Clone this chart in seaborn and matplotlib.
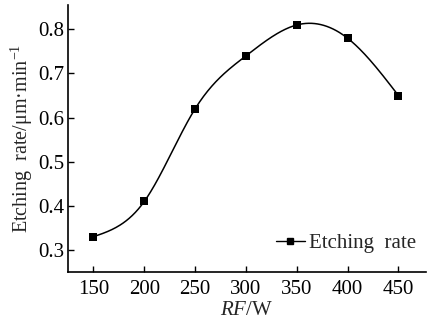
import numpy as np
import pandas as pd
import matplotlib
matplotlib.use("Agg")
import matplotlib.pyplot as plt
import seaborn as sns
from matplotlib.lines import Line2D

rf = [150, 200, 250, 300, 350, 400, 450]
rate = [0.33, 0.41, 0.62, 0.74, 0.81, 0.78, 0.65]
xticks = [150, 200, 250, 300, 350, 400, 450]
yticks = [0.3, 0.4, 0.5, 0.6, 0.7, 0.8]

sns.set_theme(style="ticks")
plt.rcParams['font.family'] = ['Liberation Serif', 'DejaVu Serif']
plt.rcParams['mathtext.fontset'] = 'custom'
plt.rcParams['mathtext.it'] = 'Liberation Serif:italic'
plt.rcParams['mathtext.rm'] = 'Liberation Serif'


def natural_spline(x, y, n=300):
    x = np.asarray(x, float); y = np.asarray(y, float)
    k = len(x)
    h = np.diff(x)
    A = np.zeros((k, k)); b = np.zeros(k)
    A[0, 0] = 1; A[-1, -1] = 1
    for i in range(1, k - 1):
        A[i, i - 1] = h[i - 1]
        A[i, i] = 2 * (h[i - 1] + h[i])
        A[i, i + 1] = h[i]
        b[i] = 3 * ((y[i + 1] - y[i]) / h[i] - (y[i] - y[i - 1]) / h[i - 1])
    c = np.linalg.solve(A, b)
    xs = np.linspace(x[0], x[-1], n)
    ys = np.empty_like(xs)
    for j, xv in enumerate(xs):
        i = min(np.searchsorted(x, xv, side='right') - 1, k - 2)
        d = xv - x[i]
        bi = (y[i + 1] - y[i]) / h[i] - h[i] * (2 * c[i] + c[i + 1]) / 3
        di = (c[i + 1] - c[i]) / (3 * h[i])
        ys[j] = y[i] + bi * d + c[i] * d ** 2 + di * d ** 3
    return xs, ys

xs, ys = natural_spline(rf, rate)
curve = pd.DataFrame({"x": xs, "y": ys})
pts = pd.DataFrame({"RF": rf, "rate": rate})

fig = plt.figure(figsize=(4.28, 3.2), dpi=100)
ax = fig.add_axes([0.159, 0.15, 0.836, 0.834])
sns.lineplot(data=curve, x="x", y="y", ax=ax, color="black", linewidth=1.1, sort=False)
sns.scatterplot(data=pts, x="RF", y="rate", ax=ax, color="black", marker="s", s=32,
                edgecolor="black", linewidth=0, zorder=3)

ax.set_xlim(125, 477)
ax.set_ylim(0.25, 0.855)
ax.set_xticks(xticks)
ax.set_yticks(yticks)
ax.set_xticklabels([str(v) for v in xticks])
ax.set_yticklabels([f"{v:.1f}" for v in yticks])
ax.tick_params(direction="in", length=4, width=1, labelsize=15, colors="black")
ax.tick_params(axis="x", pad=6)
ax.tick_params(axis="y", pad=3)
for s in ["top", "right"]:
    ax.spines[s].set_visible(False)
for s in ["left", "bottom"]:
    ax.spines[s].set_linewidth(1.2)
    ax.spines[s].set_color("black")

ax.set_xlabel(r"$\it{RF}$/W", fontsize=15, labelpad=1)
ax.set_ylabel("Etching  rate/μm·min$^{-1}$", fontsize=14.5, labelpad=2)

handle = Line2D([], [], color="black", marker="s", markersize=4, linewidth=1.0)
ax.legend([handle], ["Etching  rate"], loc="lower right", frameon=False, fontsize=15,
          handlelength=1.4, handletextpad=0.2, bbox_to_anchor=(1.025, 0.0))

fig.savefig("out.png", dpi=100)
